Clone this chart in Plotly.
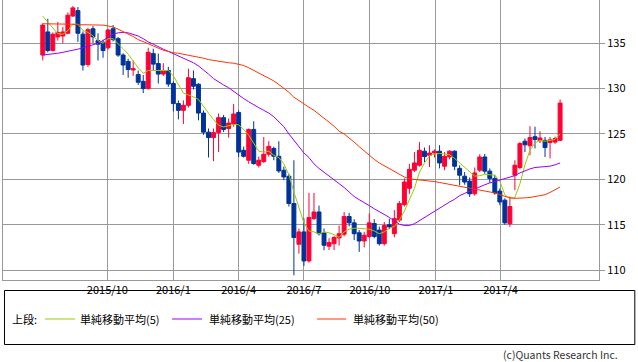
import pandas as pd
import plotly.graph_objects as go

# ---- data (weekly candles) ----
start_date = "2015-07-03"
n_weeks = 104
dates = pd.date_range(start_date, periods=n_weeks, freq="7D")

open_ = [133.7, 136.25, 134.2, 135.7, 135.8, 136.1, 138.0, 138.6, 136.0, 132.65,
         136.6, 135.3, 135.1, 134.5, 136.6, 135.5, 133.7, 133.0, 132.05, 131.55,
         130.8, 130.0, 133.86, 132.76, 131.6, 132.0, 130.56, 128.35, 127.6, 128.16,
         131.1, 130.48, 127.3, 125.2, 124.6, 125.15, 126.8, 125.6, 126.1, 127.36,
         123.2, 122.1, 125.5, 121.55, 121.96, 122.76, 123.4, 122.54, 121.0, 120.34,
         117.33, 112.84, 114.2, 111.0, 115.67, 116.4, 114.08, 112.62, 112.9, 113.53,
         113.94, 115.9, 115.2, 114.1, 113.2, 113.7, 115.13, 114.4, 112.9, 115.0,
         114.0, 115.5, 117.2, 119.0, 121.0, 121.55, 123.1, 122.65, 122.9, 123.1,
         121.44, 122.46, 123.1, 121.2, 120.34, 119.8, 118.4, 121.0, 122.46, 120.9,
         120.1, 118.7, 117.7, 115.1, 120.45, 121.3, 124.2, 123.7, 124.7, 124.25,
         124.3, 124.05, 124.1, 124.3]
high = [137.2, 137.7, 136.2, 137.35, 136.8, 138.4, 139.1, 139.0, 136.3, 136.7,
        136.9, 136.1, 135.4, 136.6, 137.0, 135.7, 133.9, 133.3, 133.1, 132.0,
        131.5, 134.5, 134.4, 133.86, 132.8, 132.4, 130.8, 128.7, 128.7, 132.2,
        132.0, 130.6, 127.6, 125.6, 125.6, 127.25, 127.1, 126.7, 128.3, 127.6,
        123.6, 125.6, 126.4, 122.5, 124.67, 124.2, 123.6, 124.2, 121.4, 120.6,
        122.1, 114.57, 115.67, 118.5, 118.5, 117.1, 114.57, 113.5, 113.76, 114.9,
        116.4, 116.3, 115.6, 114.4, 114.2, 116.23, 115.6, 114.8, 115.3, 115.67,
        116.6, 117.6, 120.1, 121.7, 123.0, 124.1, 123.5, 123.75, 123.3, 123.76,
        123.0, 123.2, 123.2, 121.55, 120.8, 120.2, 121.3, 122.76, 122.8, 121.2,
        120.5, 119.0, 117.9, 118.1, 122.1, 124.1, 124.5, 125.85, 125.8, 125.3,
        124.67, 124.67, 124.7, 128.8]
low = [133.1, 134.0, 134.1, 135.3, 135.0, 136.0, 137.9, 135.15, 132.0, 132.4,
       135.0, 133.1, 133.4, 134.3, 135.2, 133.5, 131.5, 131.2, 131.4, 130.4,
       129.5, 129.9, 132.0, 130.56, 131.4, 130.2, 127.5, 126.6, 126.1, 127.9,
       129.9, 126.5, 124.9, 122.4, 122.0, 123.0, 125.2, 124.6, 125.8, 122.46,
       122.4, 121.7, 121.6, 121.3, 121.8, 122.5, 122.1, 120.7, 119.9, 117.0,
       109.42, 111.8, 110.45, 110.8, 115.5, 113.8, 112.18, 112.2, 112.2, 112.7,
       113.7, 114.8, 113.3, 112.0, 112.5, 113.5, 113.5, 112.7, 112.7, 114.5,
       113.6, 115.3, 117.0, 118.4, 120.8, 121.4, 121.9, 121.36, 122.4, 121.2,
       121.0, 122.2, 121.0, 119.35, 119.4, 118.05, 118.2, 120.8, 120.6, 119.6,
       118.3, 117.14, 115.0, 114.75, 118.8, 121.1, 123.0, 122.65, 123.4, 124.0,
       122.46, 122.3, 123.9, 124.2]
close = [137.0, 134.2, 136.0, 136.2, 136.25, 138.1, 138.9, 136.1, 132.6, 136.5,
         135.7, 134.9, 134.2, 136.46, 135.4, 133.7, 132.6, 132.1, 132.2, 130.7,
         130.0, 134.0, 132.7, 131.6, 132.0, 130.5, 128.35, 127.6, 128.16, 131.2,
         130.26, 127.3, 125.2, 124.6, 125.15, 126.8, 125.5, 126.2, 127.2, 123.0,
         122.54, 125.5, 121.74, 122.1, 122.76, 123.64, 122.54, 120.92, 120.26, 117.33,
         113.58, 114.2, 111.0, 115.78, 116.4, 114.0, 112.73, 113.03, 113.58, 114.0,
         115.9, 115.2, 114.0, 113.2, 113.83, 115.2, 113.7, 112.9, 114.9, 114.75,
         115.67, 117.33, 119.7, 121.1, 121.8, 123.2, 122.5, 122.9, 123.1, 121.8,
         122.54, 123.1, 121.44, 120.45, 119.7, 118.4, 120.7, 122.46, 120.9, 120.1,
         118.5, 117.5, 115.2, 117.0, 121.55, 123.94, 123.8, 124.6, 124.4, 124.56,
         123.5, 124.35, 124.5, 128.4]

ma5 = [137.98, 137.3, 136.6, 136.05, 136.0, 136.4, 137.1, 137.1, 136.4, 136.2,
       135.8, 135.3, 135.0, 135.5, 135.5, 135.0, 134.4, 133.8, 133.0, 132.3,
       131.7, 132.0, 132.0, 132.0, 131.95, 132.0, 131.4, 130.5, 129.5, 129.3,
       129.1, 128.8, 128.0, 127.3, 126.6, 125.96, 125.77, 125.9, 126.05, 126.0,
       125.5, 124.86, 124.0, 123.1, 123.0, 123.1, 122.65, 122.4, 121.7, 120.5,
       118.6, 116.8, 115.2, 114.3, 114.2, 114.0, 114.2, 114.1, 113.9, 113.6,
       114.2, 114.5, 114.6, 114.6, 114.55, 114.5, 114.3, 114.0, 114.2, 114.6,
       114.8, 115.5, 116.5, 117.7, 119.0, 120.8, 121.8, 122.6, 122.8, 122.85,
       122.8, 122.7, 122.3, 121.8, 121.3, 120.8, 120.35, 120.4, 120.55, 120.5,
       120.45, 119.8, 118.3, 117.9, 118.0, 119.5, 121.6, 123.2, 124.0, 124.3,
       124.2, 124.3, 124.4, 125.0]
ma25 = [133.7, 133.75, 133.8, 133.9, 134.0, 134.1, 134.2, 134.35, 134.5, 134.65,
        134.8, 135.0, 135.3, 135.7, 136.0, 136.15, 136.2, 136.15, 136.0, 135.8,
        135.5, 135.15, 134.9, 134.6, 134.35, 134.1, 133.85, 133.6, 133.35, 133.1,
        132.85, 132.5, 132.1, 131.6, 131.1, 130.7, 130.4, 130.1, 129.7, 129.2,
        128.9, 128.55, 128.2, 127.9, 127.6, 127.3, 126.9, 126.4, 125.8, 125.0,
        124.3, 123.5, 122.9, 122.4, 121.7, 121.2, 120.8, 120.4, 120.0, 119.55,
        119.1, 118.6, 118.1, 117.75, 117.45, 117.1, 116.75, 116.45, 116.15, 115.8,
        115.4, 115.05, 114.9, 114.9, 115.1, 115.45, 115.8, 116.1, 116.5, 116.85,
        117.2, 117.5, 117.8, 118.2, 118.45, 118.7, 118.95, 119.2, 119.4, 119.6,
        119.75, 119.95, 120.1, 120.2, 120.4, 120.7, 120.95, 121.15, 121.3, 121.35,
        121.4, 121.45, 121.6, 121.8]
ma50 = [137.15, 137.15, 137.1, 137.1, 137.1, 137.1, 137.1, 137.05, 137.05, 137.0,
        137.0, 137.0, 137.0, 136.9, 136.8, 136.55, 136.3, 136.05, 135.75, 135.4,
        135.2, 134.95, 134.7, 134.45, 134.23, 134.1, 133.95, 133.9, 133.8, 133.7,
        133.55, 133.45, 133.35, 133.2, 133.1, 133.0, 132.9, 132.85, 132.8, 132.7,
        132.55, 132.3, 132.0, 131.7, 131.45, 131.15, 130.85, 130.45, 130.05, 129.6,
        129.05, 128.65, 128.3, 127.95, 127.6, 127.2, 126.75, 126.3, 125.85, 125.3,
        125.0, 124.6, 124.1, 123.6, 123.1, 122.6, 122.2, 121.8, 121.5, 121.15,
        120.85, 120.6, 120.25, 120.05, 120.0, 119.9, 119.85, 119.8, 119.75, 119.65,
        119.55, 119.45, 119.3, 119.2, 119.1, 119.0, 118.9, 118.8, 118.7, 118.6,
        118.5, 118.3, 118.1, 117.95, 117.9, 117.9, 117.95, 118.0, 118.1, 118.2,
        118.3, 118.55, 118.85, 119.15]

tick_dates = ["2015-10-01", "2016-01-01", "2016-04-01", "2016-07-01",
              "2016-10-01", "2017-01-01", "2017-04-01"]
tick_labels = ["2015/10", "2016/1", "2016/4", "2016/7", "2016/10", "2017/1", "2017/4"]
y_ticks = [110, 115, 120, 125, 130, 135]

legend_names = ["単純移動平均(5)", "単純移動平均(25)", "単純移動平均(50)"]
ma_colors = ["#99cc00", "#9900ff", "#ff3300"]

UP = "#ff0033"
DOWN = "#003399"
FONT = "Noto Sans CJK JP"

fig = go.Figure()
fig.add_trace(go.Candlestick(
    x=dates, open=open_, high=high, low=low, close=close,
    increasing=dict(line=dict(color=UP, width=1), fillcolor=UP),
    decreasing=dict(line=dict(color=DOWN, width=1), fillcolor=DOWN),
    whiskerwidth=0, showlegend=False, hoverinfo="skip",
))
for vals, col, name in zip([ma5, ma25, ma50], ma_colors, legend_names):
    fig.add_trace(go.Scatter(x=dates, y=vals, mode="lines", name=name,
                             line=dict(color=col, width=1), showlegend=False,
                             hoverinfo="skip"))

# plot area in pixels: x 3..598.7, y 0..280
L, R, T, B = 3.0, 598.7, 0.0, 280.0
W, H = 638, 362


def px(xp):
    return (xp - L) / (R - L)


def py(yp):
    return (B - yp) / (B - T)


grid = "#999999"
fig.update_layout(
    width=W, height=H,
    margin=dict(l=L, r=W - R, t=T, b=H - B, pad=0),
    paper_bgcolor="white", plot_bgcolor="white",
    font=dict(family=FONT, size=11, color="#000000"),
    boxgap=0.22, boxgroupgap=0,
    xaxis=dict(type="date", range=["2015-05-08 14:00", "2017-08-16 05:00"],
               tickvals=tick_dates, ticktext=tick_labels, showgrid=True,
               gridcolor=grid, gridwidth=1, showline=True, linecolor=grid,
               linewidth=1, mirror=True, ticks="", zeroline=False,
               rangeslider=dict(visible=False), fixedrange=True, automargin=False,
               tickfont=dict(family=FONT, size=11, color="#000")),
    yaxis=dict(range=[108.897, 139.77], side="right", tickvals=y_ticks,
               showgrid=True, gridcolor=grid, gridwidth=1, showline=True,
               linecolor=grid, linewidth=1, mirror=True, ticks="outside",
               ticklen=5, tickcolor=grid, zeroline=False, fixedrange=True,
               automargin=False,
               tickfont=dict(family=FONT, size=11, color="#000")),
    showlegend=False,
)

# legend box drawn below the plot
shapes = [dict(type="rect", xref="paper", yref="paper",
               x0=px(4.5), x1=px(634.5), y0=py(344.5), y1=py(290.5),
               line=dict(color="#000000", width=1), fillcolor="rgba(0,0,0,0)")]
ly = py(319)
line_spans = [(45, 75), (172, 202), (317, 346)]
text_left = [78, 207, 351]
annotations = [dict(text="上段:", x=px(10), y=ly, xref="paper", yref="paper",
                    xanchor="left", yanchor="middle", showarrow=False,
                    font=dict(family=FONT, size=11, color="#000"))]
for (a, b), tl, col, name in zip(line_spans, text_left, ma_colors, legend_names):
    shapes.append(dict(type="line", xref="paper", yref="paper", x0=px(a), x1=px(b),
                       y0=ly, y1=ly, line=dict(color=col, width=1)))
    annotations.append(dict(text=name, x=px(tl), y=ly, xref="paper", yref="paper",
                            xanchor="left", yanchor="middle", showarrow=False,
                            font=dict(family=FONT, size=11, color="#000")))
annotations.append(dict(text="(c)Quants Research Inc.", x=px(619), y=py(354),
                        xref="paper", yref="paper", xanchor="right", yanchor="middle",
                        showarrow=False, borderpad=0,
                        font=dict(family=FONT, size=10.5, color="#333")))
fig.update_layout(shapes=shapes, annotations=annotations)

fig.write_html("out.html", config={"displayModeBar": False},
               post_script="document.body.style.margin='0';document.body.style.overflow='hidden';")
